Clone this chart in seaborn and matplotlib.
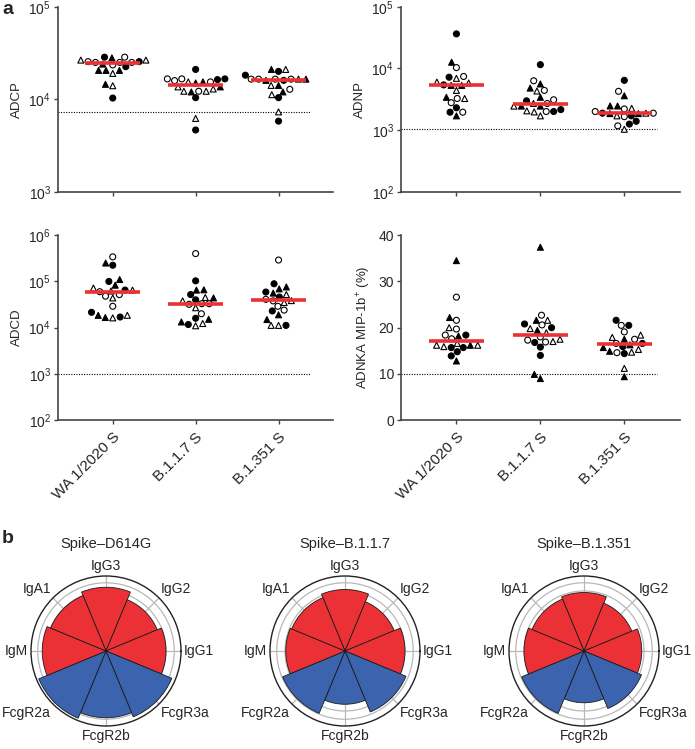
import numpy as np
import pandas as pd
import matplotlib
matplotlib.use("Agg")
import matplotlib.pyplot as plt
import seaborn as sns
from matplotlib.markers import MarkerStyle
from matplotlib.ticker import NullLocator

sns.set_style("ticks")
plt.rcParams["font.family"] = ["Liberation Sans", "DejaVu Sans"]
plt.rcParams["mathtext.fontset"] = "custom"
plt.rcParams["mathtext.rm"] = "Liberation Sans"
plt.rcParams["mathtext.it"] = "Liberation Sans:italic"

# ---- panel a data ----
groups = ["WA 1/2020 S", "B.1.1.7 S", "B.1.351 S"]
# marker codes: C filled circle, c open circle, T filled triangle, t open triangle

adcp = [
    [28000, 26500, 28500, 28500, 25500, 25000, 25000, 25500, 26500, 25000,
     24000, 20500, 20500, 22500, 19000, 20500, 14500, 14000, 10300, 23500],
    [21000, 16600, 16300, 15400, 15000, 15900, 16600, 15400, 15400, 16600,
     12900, 13600, 12200, 12200, 12200, 12000, 13600, 10400, 6200, 4650],
    [18200, 21000, 20000, 21000, 16000, 16500, 16500, 16500, 16500, 16500,
     16500, 14100, 14100, 12800, 12000, 10400, 11200, 7300, 5800, 16000],
]
adcp_mk = ["TtcCCccctcTTTCtTTtCc", "CCCtTcccTctTttcTtCtC", "CTCtTccTccttTcTCttCC"]
adcp_med = [24500, 14300, 16000]
adcp_thr = 7200

adnp = [
    [36300, 12600, 10300, 6900, 7200, 7400, 5800, 6000, 5300, 5300,
     5400, 4400, 3400, 3250, 3250, 2780, 2300, 1700, 1950, 1950],
    [11500, 6300, 5600, 4800, 4400, 4300, 3400, 3100, 2980, 2700,
     2450, 2700, 2450, 2450, 2000, 2000, 2050, 2150, 1970, 1700],
    [6400, 4250, 3600, 2460, 2460, 2250, 2200, 1700, 1880, 1880,
     1880, 1850, 1700, 1650, 1390, 1250, 1170, 1030, 1850, 2000],
]
adnp_mk = ["CTctCcttTTCtTctcCTCc", "CcTTctTcCcTttTCctCtt", "CcTTTtcCctCTtcCCctTc"]
adnp_med = [5300, 2600, 1880]
adnp_thr = 1050

adcd = [
    [340000, 250000, 224000, 110000, 100000, 83000, 72000, 65000, 60000, 65000,
     62000, 52000, 44000, 48000, 29000, 16600, 21500, 17000, 18500, 16300, 18500],
    [400000, 103000, 66000, 65000, 52000, 45000, 40000, 38000, 44000, 33000,
     33000, 27000, 32000, 20000, 16000, 15200, 11700, 12300, 13300, 11000],
    [290000, 76000, 69000, 89000, 59000, 52000, 56000, 46000, 38000, 38500,
     41000, 35000, 24000, 29000, 23000, 19000, 15000, 11200, 11200, 11200],
]
adcd_mk = ["cTCTCTttcCtctccTCCTtt", "cCTTCtCtTcctccCTCtTt", "cTTCCtTCctctccCTTCtt"]
adcd_med = [59000, 33000, 39000]
adcd_thr = 1000

mip = [
    [34.5, 26.6, 22.2, 21.6, 20.0, 19.7, 18.2, 18.4, 18.4, 17.6,
     15.7, 16.2, 15.7, 16.2, 16.6, 15.9, 16.2, 14.8, 13.9, 12.8],
    [37.4, 22.7, 21.6, 21.6, 20.6, 20.8, 19.8, 20.0, 18.9, 19.4,
     17.5, 17.0, 16.9, 17.3, 16.8, 18.0, 15.8, 14.0, 9.9, 9.0],
    [21.6, 19.1, 20.5, 20.5, 17.5, 16.6, 17.9, 18.4, 17.5, 16.3,
     14.7, 15.3, 15.7, 14.4, 14.9, 16.6, 15.9, 14.6, 11.2, 9.4],
]
mip_mk = ["TcTctcTCccCtCTtttCCT", "TcTtcCtCtTttccCcCCTT", "CccCTcttcTttTCTCCctT"]
mip_med = [17.2, 18.5, 16.5]
mip_thr = 10

# ---- panel b data ----
features = ["IgG3", "IgG2", "IgG1", "FcgR3a", "FcgR2b", "FcgR2a", "IgM", "IgA1"]
feature_angles = [90, 45, 0, 315, 270, 225, 180, 135]
spike_titles = ["Spike\u2013D614G", "Spike\u2013B.1.1.7", "Spike\u2013B.1.351"]
radii_d614g = [0.85, 0.74, 0.80, 0.95, 0.89, 0.97, 0.85, 0.80]
radii_b117 = [0.82, 0.71, 0.80, 0.88, 0.71, 0.90, 0.79, 0.77]
radii_b1351 = [0.78, 0.69, 0.77, 0.83, 0.69, 0.90, 0.80, 0.75]

RED = "#ec3136"
BLUE = "#3b63ae"
AXC = "#444444"


def marker_path(m):
    ms = MarkerStyle(m)
    return ms.get_path().transformed(ms.get_transform())


PATHS = {"c": marker_path("o"), "t": marker_path("^")}


def scatter_panel(ax, values, marks, medians, thr, ylabel, log=True,
                  ylim=None, yticks=None, show_labels=False):
    rows = []
    for g, vals, mk in zip(groups, values, marks):
        for v, m in zip(vals, mk):
            rows.append((g, v, "filled" if m.isupper() else "open"))
    df = pd.DataFrame(rows, columns=["group", "value", "fill"])
    if log:
        ax.set_yscale("log")
    sns.swarmplot(data=df, x="group", y="value", hue="fill", order=groups,
                  palette={"filled": "black", "open": "white"}, size=4.3,
                  edgecolor="black", linewidth=0.8, legend=False,
                  warn_thresh=1, ax=ax)
    # switch the individual markers to circles / triangles
    for coll, mk in zip(ax.collections, marks):
        coll.set_paths([PATHS[m.lower()] for m in mk])
    for i, med in enumerate(medians):
        ax.hlines(med, i - 0.33, i + 0.33, color=RED, lw=2.6, zorder=5)
    ax.axhline(thr, xmin=0.0, xmax=0.92, ls=(0, (1, 1.3)), color="black", lw=0.8, zorder=0)
    ax.set_xlim(-0.66, 2.66)
    ax.set_ylim(*ylim)
    ax.set_yticks(yticks)
    if log:
        ax.yaxis.set_minor_locator(NullLocator())
    ax.set_xlabel("")
    ax.set_ylabel(ylabel, fontsize=9.5, labelpad=4)
    ax.set_xticks(range(len(groups)))
    if show_labels:
        ax.set_xticklabels(groups, rotation=45, ha="right", rotation_mode="anchor", fontsize=11)
    else:
        ax.set_xticklabels([])
    for s in ["top", "right"]:
        ax.spines[s].set_visible(False)
    for s in ["left", "bottom"]:
        ax.spines[s].set_color(AXC)
        ax.spines[s].set_linewidth(1.2)
    ax.tick_params(axis="y", direction="out", length=3, width=1, color=AXC,
                   labelsize=10, pad=2)
    ax.tick_params(axis="x", direction="out", length=3, width=1, color=AXC, pad=4)


def polar_panel(ax, radii, title):
    theta = np.deg2rad(feature_angles)
    colors = [RED if f.startswith("Ig") else BLUE for f in features]
    ax.set_axisbelow(True)
    ax.bar(theta, radii, width=np.pi / 4, color=colors, edgecolor="#1a1a1a",
           linewidth=0.6, zorder=3)
    ax.set_xlim(0, 2 * np.pi)
    ax.set_ylim(0, 1)
    ax.set_yticks([0.8, 0.91])
    ax.set_yticklabels([])
    ax.set_xticks(theta)
    ax.set_xticklabels([])
    ax.grid(color="#b8b8b8", lw=0.9)
    ax.spines["polar"].set_linewidth(1.0)
    ax.spines["polar"].set_color("#222222")
    for f, a in zip(features, feature_angles):
        c, s = np.cos(np.deg2rad(a)), np.sin(np.deg2rad(a))
        ha = "center" if abs(c) < 0.1 else ("left" if c > 0 else "right")
        va = "center" if abs(s) < 0.1 else ("bottom" if s > 0 else "top")
        ax.text(np.deg2rad(a), 1.04, f, ha=ha, va=va, fontsize=10)
    ax.set_title(title, fontsize=10.5, pad=20)


fig = plt.figure(figsize=(6.95, 7.49), dpi=100)

ax_adcp = fig.add_axes([0.0835, 0.744, 0.396, 0.247])
ax_adnp = fig.add_axes([0.577, 0.744, 0.401, 0.247])
ax_adcd = fig.add_axes([0.0835, 0.439, 0.396, 0.247])
ax_mip = fig.add_axes([0.577, 0.439, 0.401, 0.247])

scatter_panel(ax_adcp, adcp, adcp_mk, adcp_med, adcp_thr, "ADCP",
              ylim=(1e3, 1e5), yticks=[1e3, 1e4, 1e5])
scatter_panel(ax_adnp, adnp, adnp_mk, adnp_med, adnp_thr, "ADNP",
              ylim=(1e2, 1e5), yticks=[1e2, 1e3, 1e4, 1e5])
scatter_panel(ax_adcd, adcd, adcd_mk, adcd_med, adcd_thr, "ADCD",
              ylim=(1e2, 1e6), yticks=[1e2, 1e3, 1e4, 1e5, 1e6], show_labels=True)
scatter_panel(ax_mip, mip, mip_mk, mip_med, mip_thr, "ADNKA MIP-1b$^{+}$ (%)", log=False,
              ylim=(0, 40), yticks=[0, 10, 20, 30, 40], show_labels=True)

pw, ph = 150 / 695, 150 / 749
for cx, radii, title in zip([106, 345, 584], [radii_d614g, radii_b117, radii_b1351], spike_titles):
    pax = fig.add_axes([cx / 695 - pw / 2, 1 - 651 / 749 - ph / 2, pw, ph], projection="polar")
    polar_panel(pax, radii, title)

fig.text(0.003, 0.998, "a", fontsize=14, fontweight="bold", va="top")
fig.text(0.003, 0.293, "b", fontsize=14, fontweight="bold", va="top")

fig.savefig("out.png", dpi=100)
